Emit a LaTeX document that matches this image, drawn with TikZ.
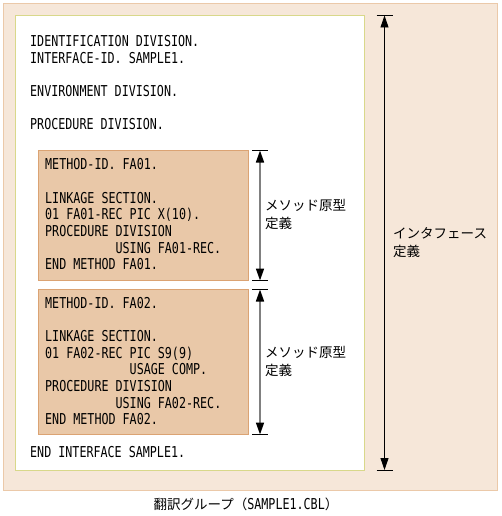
\documentclass[tikz,border=0pt]{standalone}
\usepackage{fontspec}
\newfontfamily\codefont[FakeStretch=0.78]{DejaVu Sans Mono}
\newfontfamily\jpfont{Noto Sans CJK JP}
\usetikzlibrary{arrows.meta}
\definecolor{groupfill}{HTML}{F6E7D9}
\definecolor{groupdraw}{HTML}{EBC9A9}
\definecolor{ifdraw}{HTML}{D8D88A}
\definecolor{methodfill}{HTML}{E9C8A8}
\definecolor{methoddraw}{HTML}{DBA373}
\newcommand\codeindent[1]{\hphantom{#1}}

\begin{document}
\begin{tikzpicture}[x=1pt, y=-1pt, >={Triangle[length=12pt,width=8pt,color=black]},
    codetext/.style={font=\codefont\fontsize{15}{16.7}\selectfont, align=left, anchor=north west, inner sep=0pt},
    jptext/.style={font=\jpfont\fontsize{13.5}{18}\selectfont, align=left, anchor=north west, inner sep=0pt},
    methodbox/.style={fill=methodfill, draw=methoddraw, line width=0.8pt},
    endtick/.style={black, line width=0.8pt}]
    \useasboundingbox (0,0) rectangle (501,516);

    % translation group and interface definition
    \filldraw[fill=groupfill, draw=groupdraw, line width=0.8pt] (3,3) rectangle (497.5,490);
    \filldraw[fill=white, draw=ifdraw, line width=0.8pt] (15.5,15.5) rectangle (364,470);

    \node[codetext] (ifhead) at (30,35) {IDENTIFICATION DIVISION.\\INTERFACE-ID. SAMPLE1.\\ \\ENVIRONMENT DIVISION.\\ \\PROCEDURE DIVISION.};

    % method prototypes
    \filldraw[methodbox] (38.5,150.5) rectangle (248.5,280.5);
    \filldraw[methodbox] (38.5,289.5) rectangle (248.5,434.5);

    \node[codetext] (fa01) at (45,158.3) {METHOD-ID. FA01.\\ \\LINKAGE SECTION.\\01 FA01-REC PIC X(10).\\PROCEDURE DIVISION\\\codeindent{0000000000}USING FA01-REC.\\END METHOD FA01.};
    \node[codetext] (fa02) at (45,296.7) {METHOD-ID. FA02.\\ \\LINKAGE SECTION.\\01 FA02-REC PIC S9(9)\\\codeindent{000000000000}USAGE COMP.\\PROCEDURE DIVISION\\\codeindent{0000000000}USING FA02-REC.\\END METHOD FA02.};

    \node[codetext] (ifend) at (30,445.7) {END INTERFACE SAMPLE1.};

    % extent arrows
    \coordinate (m1top) at (260,150.5);
    \coordinate (m1bot) at (260,280.5);
    \coordinate (m2top) at (260,289.5);
    \coordinate (m2bot) at (260,434.5);
    \coordinate (iftop) at (384.5,15.5);
    \coordinate (ifbot) at (384.5,470);

    \foreach \c in {m1top,m1bot,m2top,m2bot}
        \draw[endtick] ([xshift=-8pt]\c) -- ([xshift=8pt]\c);
    \foreach \c in {iftop,ifbot}
        \draw[endtick] ([xshift=-8pt]\c) -- ([xshift=8pt]\c);

    \draw[<->, gray, line width=1.6pt] (m1top) -- (m1bot);
    \draw[<->, gray, line width=1.6pt] (m2top) -- (m2bot);
    \draw[<->, black, line width=0.9pt] (iftop) -- (ifbot);

    \node[jptext] (m1label) at (265,199) {メソッド原型\\定義};
    \node[jptext] (m2label) at (265,346) {メソッド原型\\定義};
    \node[jptext] (iflabel) at (393,227) {インタフェース\\定義};

    % caption
    \node[inner sep=0pt, anchor=north] (caption) at (246,497.5) {\jpfont\fontsize{13.5}{18}\selectfont 翻訳グループ（{\codefont\fontsize{15}{18}\selectfont SAMPLE1.CBL}）};
\end{tikzpicture}
\end{document}
